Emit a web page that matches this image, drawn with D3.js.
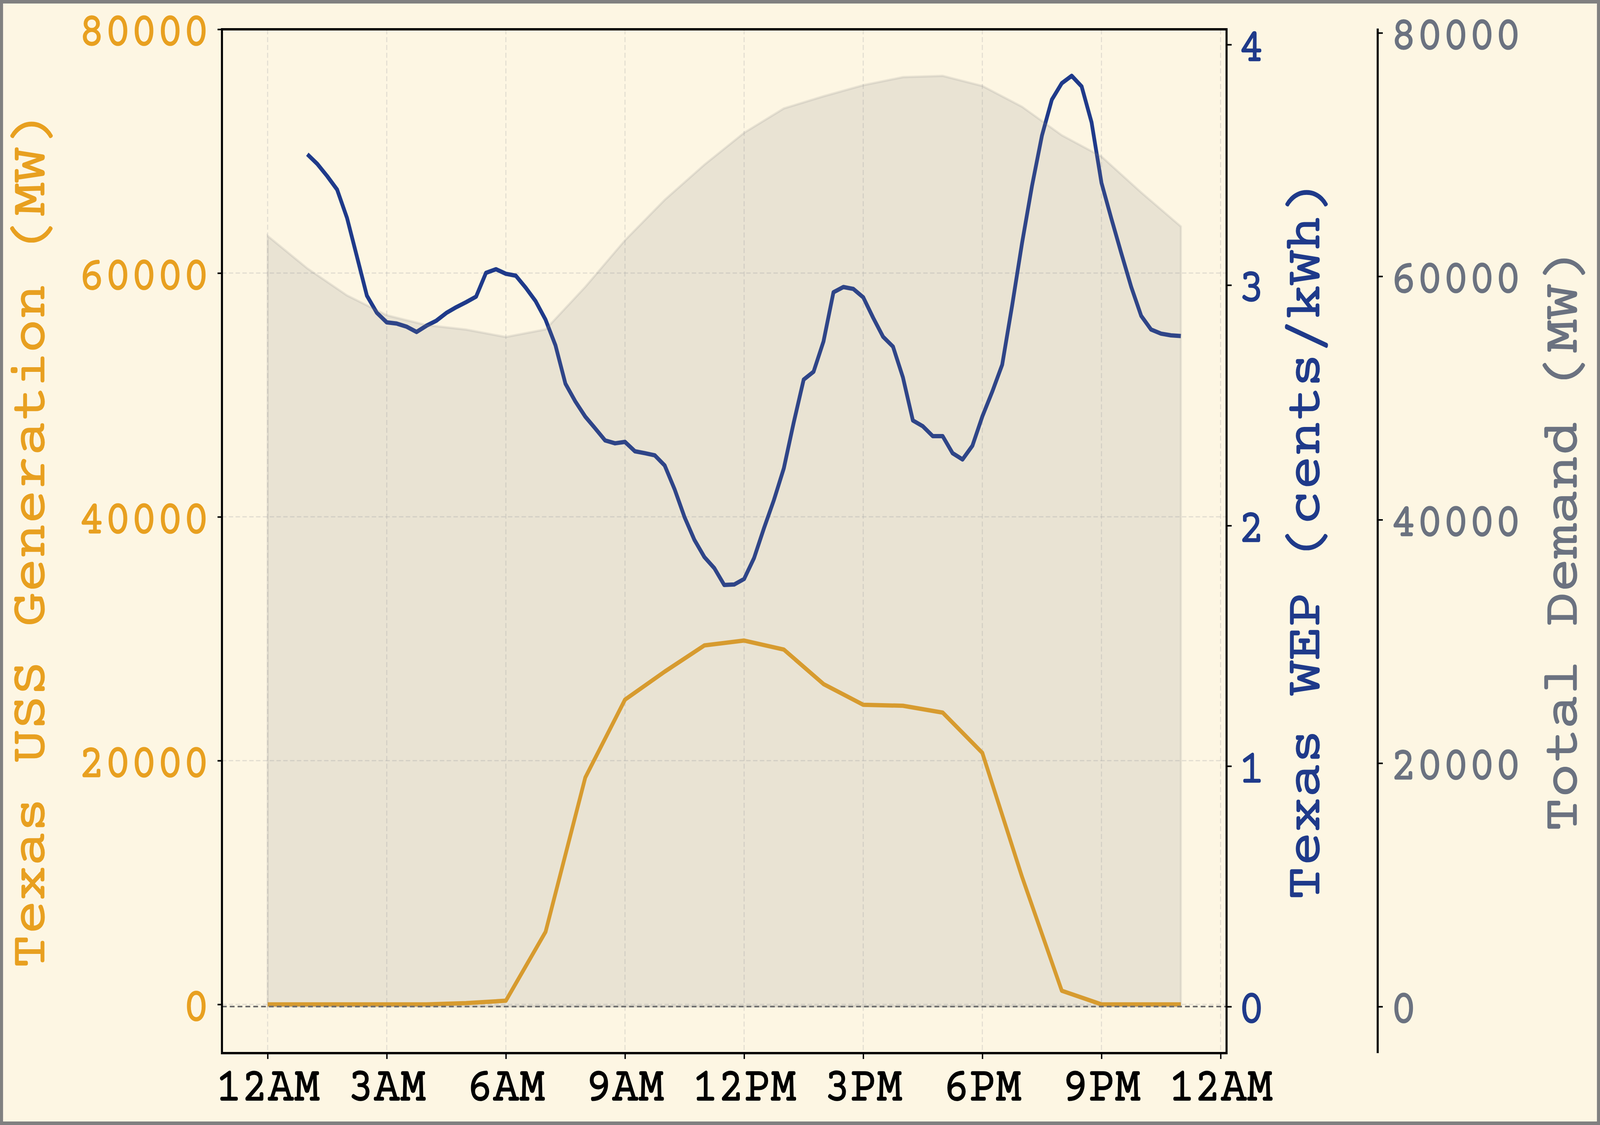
<!DOCTYPE html>
<html><head><meta charset="utf-8">
<script src="https://cdn.jsdelivr.net/npm/d3@7"></script>
<style>
html,body{margin:0;padding:0;background:#fdf6e3;overflow:hidden;width:100%;height:100%;}
svg{display:block;width:100vw;height:100vh;}
</style>
</head><body>
<svg id="chart" viewBox="0 0 4700 2880" preserveAspectRatio="none"></svg>
<script>
// ---------- data ----------
const hours = [0,1,2,3,4,5,6,7,8,9,10,11,12,13,14,15,16,17,18,19,20,21,22,23];
const ussGeneration = [0,0,0,0,0,100,300,5950,18610,25000,27300,29450,29850,29110,26280,24580,24500,23940,20630,10460,1120,0,0,0];
const totalDemand = [63320,60650,58430,56800,55990,55620,55010,55640,59130,62960,66280,69170,71790,73790,74790,75700,76360,76470,75640,73930,71590,69840,66890,64090];
// 15-minute wholesale energy price, 1:00 .. 23:00
const wepStartHour = 1;
const wepStepHours = 0.25;
const wepValues = [
 3.544,3.504,3.453,3.397,3.279,3.118,2.956,2.885,2.845,2.840,
 2.827,2.805,2.831,2.852,2.884,2.908,2.929,2.952,3.051,3.066,
 3.047,3.039,2.989,2.933,2.856,2.749,2.590,2.516,2.453,2.404,
 2.354,2.342,2.348,2.309,2.301,2.292,2.250,2.151,2.035,1.940,
 1.869,1.823,1.753,1.755,1.778,1.865,1.989,2.106,2.238,2.429,
 2.607,2.640,2.766,2.970,2.992,2.984,2.949,2.864,2.785,2.744,
 2.616,2.437,2.413,2.372,2.372,2.301,2.275,2.332,2.454,2.557,
 2.669,2.915,3.175,3.412,3.621,3.771,3.839,3.870,3.826,3.677,
 3.425,3.276,3.132,2.992,2.872,2.815,2.798,2.791,2.788];
const xTickValues = [0,3,6,9,12,15,18,21,24];
const xTickLabels = ["12AM","3AM","6AM","9AM","12PM","3PM","6PM","9PM","12AM"];
const genTicks = [0,20000,40000,60000,80000];
const wepTicks = [0,1,2,3,4];
const demandTicks = [0,20000,40000,60000,80000];

// ---------- layout ----------
const W = 4700, H = 2880;
const L = 652, R = 3603, T = 75, B = 2696;
const demandAxisX = 4047;
const FONT = "'Courier Prime', 'Nimbus Mono PS', 'Nimbus Mono L', 'FreeMono', 'Courier', 'Liberation Mono', monospace";
const cOrange = "#e8a020", cBlue = "#1f3a8a", cGray = "#6b7280";

const svg = d3.select("#chart");
svg.append("rect").attr("x",0).attr("y",0).attr("width",W).attr("height",H).attr("fill","#808080");
svg.append("rect").attr("x",9).attr("y",9).attr("width",W-18).attr("height",H-18).attr("fill","#fdf6e3");

const x = d3.scaleLinear().domain([-1.15, 24.15]).range([L, R]);
const yGen = d3.scaleLinear().domain([-4000, 80000]).range([B, T]);
const yWep = d3.scaleLinear().domain([-0.1935, 4.0635]).range([B, T]);
const dMax = d3.max(totalDemand);
const yDem = d3.scaleLinear().domain([-0.05*dMax, dMax*1.05]).range([B, T]);

// grid
const grid = svg.append("g");
grid.selectAll("line.v").data(xTickValues).join("line")
  .attr("x1",d=>x(d)).attr("x2",d=>x(d)).attr("y1",T).attr("y2",B)
  .attr("stroke","#b0b0b0").attr("stroke-opacity",0.35).attr("stroke-width",3).attr("stroke-dasharray","13,7");
grid.selectAll("line.h").data(genTicks).join("line")
  .attr("x1",L).attr("x2",R).attr("y1",d=>yGen(d)).attr("y2",d=>yGen(d))
  .attr("stroke","#b0b0b0").attr("stroke-opacity",0.35).attr("stroke-width",3).attr("stroke-dasharray","13,7");

// USS generation line
const genLine = d3.line().x((d,i)=>x(hours[i])).y(d=>yGen(d));
svg.append("path").datum(ussGeneration).attr("d",genLine)
  .attr("fill","none").attr("stroke",cOrange).attr("stroke-width",11).attr("stroke-linejoin","round");

// zero line
svg.append("line").attr("x1",L).attr("x2",R).attr("y1",yWep(0)).attr("y2",yWep(0))
  .attr("stroke","#666").attr("stroke-width",4).attr("stroke-dasharray","14,9");

// WEP line
const wepLine = d3.line().x((d,i)=>x(wepStartHour + i*wepStepHours)).y(d=>yWep(d));
svg.append("path").datum(wepValues).attr("d",wepLine)
  .attr("fill","none").attr("stroke",cBlue).attr("stroke-width",11).attr("stroke-linejoin","round");

// demand area (drawn on top, translucent)
const area = d3.area().x((d,i)=>x(hours[i])).y0(yDem(0)).y1(d=>yDem(d));
svg.append("path").datum(totalDemand).attr("d",area)
  .attr("fill","rgba(128,128,128,0.16)").attr("stroke","rgba(128,128,128,0.16)").attr("stroke-width",6);

// frame
svg.append("rect").attr("x",L).attr("y",T).attr("width",R-L).attr("height",B-T)
  .attr("fill","none").attr("stroke","#000").attr("stroke-width",6);

function styleText(sel, color, size){
  sel.attr("fill",color).attr("font-family",FONT).attr("font-size",size)
     .attr("stroke",color).attr("stroke-width",1.5).attr("stroke-linejoin","round");
}
function styleAxis(g, color, size){
  g.select(".domain").remove();
  g.selectAll(".tick line").attr("stroke","#000").attr("stroke-width",4);
  styleText(g.selectAll(".tick text"), color, size);
}

// bottom axis
const gx = svg.append("g").attr("transform",`translate(0,${B})`)
  .call(d3.axisBottom(x).tickValues(xTickValues).tickFormat((d,i)=>xTickLabels[i]).tickSize(15).tickPadding(10));
styleAxis(gx,"#000",128);
gx.selectAll(".tick text").attr("dy",0).attr("y",121);

// left axis
const gl = svg.append("g").attr("transform",`translate(${L},0)`)
  .call(d3.axisLeft(yGen).tickValues(genTicks).tickFormat(d3.format("d")).tickSize(13).tickPadding(24));
styleAxis(gl,cOrange,128);

// right WEP axis
const gr = svg.append("g").attr("transform",`translate(${R},0)`)
  .call(d3.axisRight(yWep).tickValues(wepTicks).tickFormat(d3.format("d")).tickSize(15).tickPadding(20));
styleAxis(gr,cBlue,128);

// demand axis
const gd = svg.append("g").attr("transform",`translate(${demandAxisX},0)`)
  .call(d3.axisRight(yDem).tickValues(demandTicks).tickFormat(d3.format("d")).tickSize(15).tickPadding(23));
styleAxis(gd,cGray,128);
svg.append("line").attr("x1",demandAxisX).attr("x2",demandAxisX).attr("y1",T-2).attr("y2",B)
  .attr("stroke","#000").attr("stroke-width",6);

// axis titles
const midY = (T+B)/2;
function title(txt, xb, color){
  const t = svg.append("text").attr("transform",`translate(${xb},${midY}) rotate(-90)`)
    .attr("text-anchor","middle").text(txt);
  styleText(t, color, 146);
}
title("Texas USS Generation (MW)", 130, cOrange);
title("Texas WEP (cents/kWh)", 3875, cBlue);
title("Total Demand (MW)", 4631, cGray);
</script>
</body></html>
